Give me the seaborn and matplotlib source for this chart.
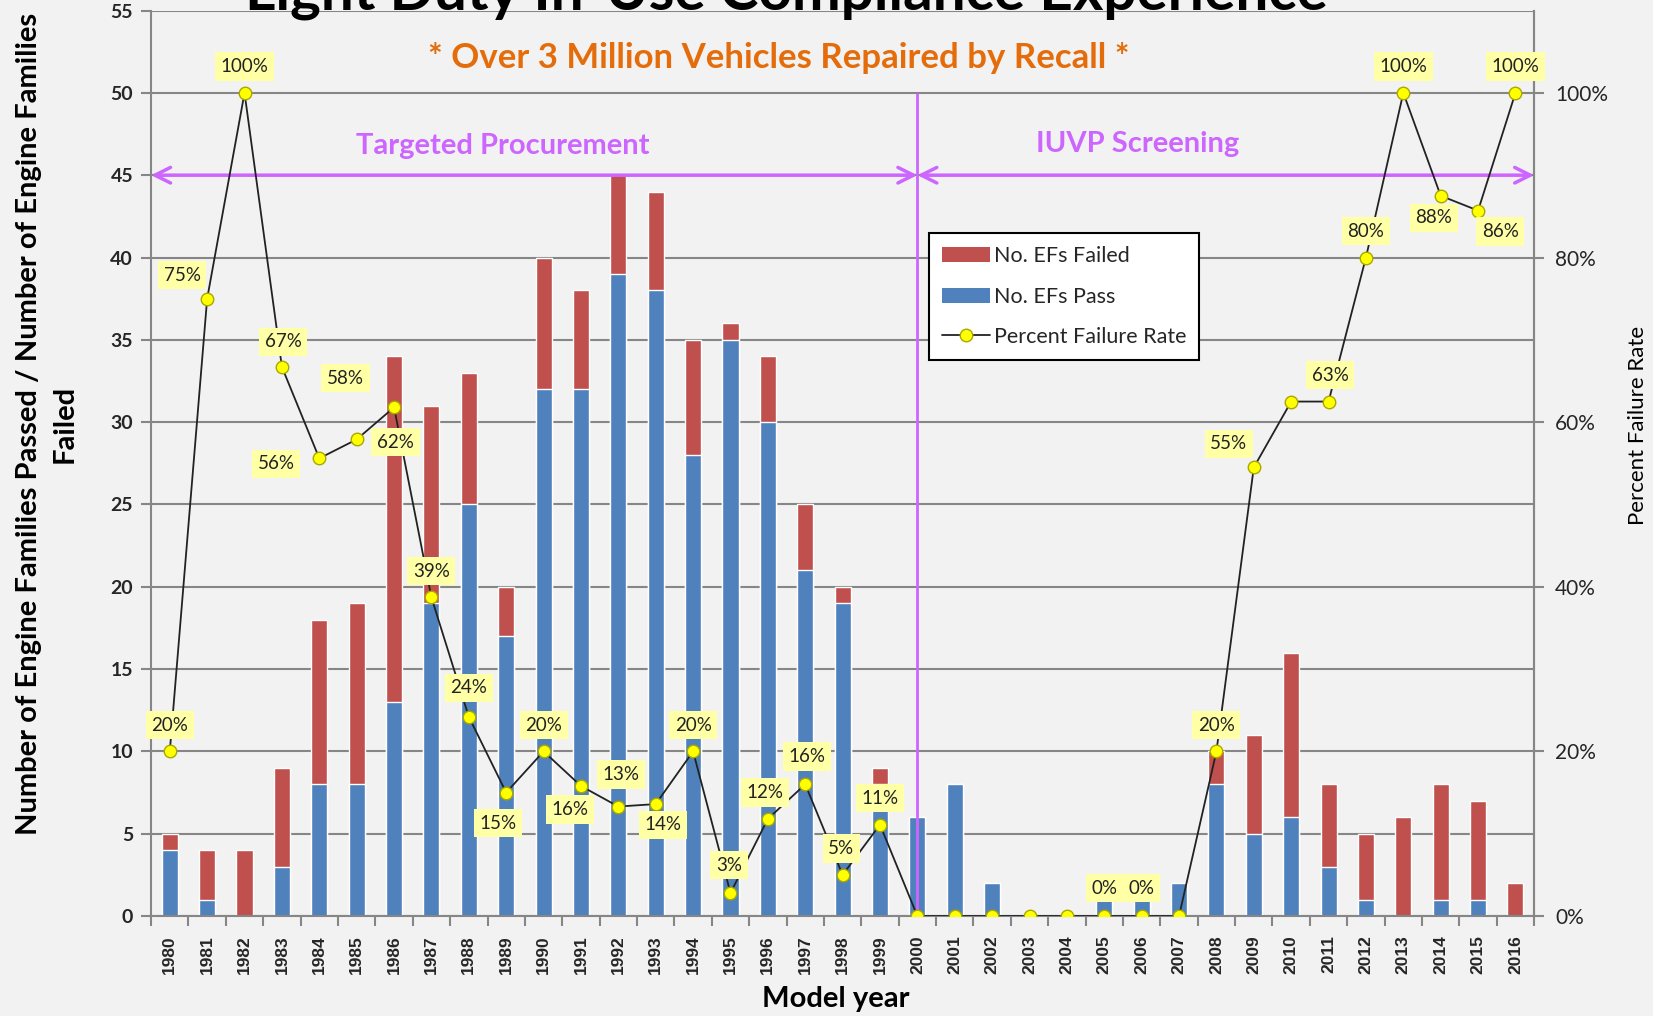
import numpy as np
import pandas as pd
import matplotlib
matplotlib.use("Agg")
import matplotlib.pyplot as plt
import seaborn as sns
from matplotlib.patches import Patch
from matplotlib.lines import Line2D
from matplotlib.ticker import FuncFormatter, FixedLocator

# ---------------- data ----------------
years = [str(y) for y in range(1980, 2017)]
passed = [4, 1, 0, 3, 8, 8, 13, 19, 25, 17, 32, 32, 39, 38, 28, 35, 30, 21, 19, 8,
          6, 8, 2, 0, 0, 1, 1, 2, 8, 5, 6, 3, 1, 0, 1, 1, 0]
failed = [1, 3, 4, 6, 10, 11, 21, 12, 8, 3, 8, 6, 6, 6, 7, 1, 4, 4, 1, 1,
          0, 0, 0, 0, 0, 0, 0, 0, 2, 6, 10, 5, 4, 6, 7, 6, 2]
fail_rate = [0.20, 0.75, 1.00, 0.667, 0.556, 0.579, 0.618, 0.387, 0.242, 0.15,
             0.20, 0.158, 0.133, 0.136, 0.20, 0.028, 0.118, 0.16, 0.05, 0.111,
             0, 0, 0, 0, 0, 0, 0, 0, 0.20, 0.545, 0.625, 0.625, 0.80, 1.00, 0.875, 0.857, 1.00]
rate_labels = ["20%", "75%", "100%", "67%", "56%", "58%", "62%", "39%", "24%", "15%",
               "20%", "16%", "13%", "14%", "20%", "3%", "12%", "16%", "5%", "11%",
               "", "", "", "", "", "0%", "0%", "", "20%", "55%", "", "63%", "80%", "100%", "88%", "86%", "100%"]
# label offsets (points) relative to each point
label_offsets = [(0, 19), (-18, 17), (0, 19), (1, 18), (-31, -4), (-8, 44), (1, -25), (0, 19), (0, 21), (-6, -22),
                 (0, 19), (-8, -17), (2, 23), (5, -15), (0, 19), (-1, 20), (-2, 19), (1, 20), (-1, 19), (0, 19),
                 (0, 19), (0, 19), (0, 19), (0, 19), (0, 19), (0, 20), (0, 20), (0, 19), (0, 19), (-18, 17),
                 (0, 19), (1, 19), (0, 19), (0, 19), (-5, -16), (16, -15), (0, 19)]

left_ticks = list(range(0, 56, 5))
right_ticks = [0, 0.2, 0.4, 0.6, 0.8, 1.0]

df = pd.DataFrame({"year": years, "passed": passed, "failed": failed})
df["total"] = df["passed"] + df["failed"]

BG = "#f2f2f2"
RED = "#c0504d"
BLUE = "#4f81bd"
PURPLE = "#cc66ff"
ORANGE = "#e46c0a"
GRID = "#868686"

sns.set_theme(style="white")
plt.rcParams["font.family"] = ["Lato", "DejaVu Sans"]

fig = plt.figure(figsize=(16.53, 10.16), dpi=100, facecolor=BG)
ax = fig.add_axes([0.0914, 0.0984, 0.8367, 0.8912])
ax.set_facecolor(BG)

sns.barplot(data=df, x="year", y="total", color=RED, saturation=1, width=0.43, ax=ax, zorder=2)
sns.barplot(data=df, x="year", y="passed", color=BLUE, saturation=1, width=0.43, ax=ax, zorder=2)

ax.set_xlim(-0.5, len(years) - 0.5)
ax.set_ylim(0, 55)
ax.yaxis.set_major_locator(FixedLocator(left_ticks))
ax.set_axisbelow(True)
ax.grid(axis="y", color=GRID, lw=1.5, zorder=0)
ax.grid(axis="x", visible=False)
ax.spines["top"].set_visible(False)
for s in ["left", "right", "bottom"]:
    ax.spines[s].set_color(GRID)
    ax.spines[s].set_linewidth(1.5)

# tick styling
ax.set_xticks(range(len(years)))
ax.set_xticklabels(years, rotation=90, fontsize=12.5, fontweight="bold",
                   family=["Liberation Sans", "DejaVu Sans"])
ax.tick_params(axis="x", which="major", length=0, pad=14)
ax.set_xticks(np.arange(-0.5, len(years), 1.0), minor=True)
ax.tick_params(axis="x", which="minor", length=7, color=GRID, width=1.5, direction="out", bottom=True)
ax.tick_params(axis="y", left=True, length=7, color=GRID, width=1.5, direction="out", labelsize=14, pad=6)
for lab in ax.get_yticklabels():
    lab.set_fontweight("bold")

ax.set_ylabel("Number of Engine Families Passed / Number of Engine Families\nFailed",
              fontsize=21, fontweight="bold", color="black", linespacing=1.45)
ax.yaxis.set_label_coords(-0.053, 0.543)
ax.set_xlabel("Model year", fontsize=21, fontweight="bold", color="black")
ax.xaxis.set_label_coords(0.495, -0.092)
ax.xaxis.label.set_va("center")

# period markers
ax.vlines(20, 0, 50, color=PURPLE, lw=2, zorder=3)
ax.annotate("", xy=(-0.5, 45), xytext=(20, 45),
            arrowprops=dict(arrowstyle="<->", color=PURPLE, lw=2.5, mutation_scale=28,
                            shrinkA=0, shrinkB=0), zorder=4)
ax.annotate("", xy=(20, 45), xytext=(len(years) - 0.5, 45),
            arrowprops=dict(arrowstyle="<->", color=PURPLE, lw=2.5, mutation_scale=28,
                            shrinkA=0, shrinkB=0), zorder=4)
ax.text(8.9, 46.8, "Targeted Procurement", color=PURPLE, fontsize=21, fontweight="bold",
        ha="center", va="center")
ax.text(25.9, 46.9, "IUVP Screening", color=PURPLE, fontsize=21, fontweight="bold",
        ha="center", va="center")
ax.text(16.3, 52.1, "* Over 3 Million Vehicles Repaired by Recall *", color=ORANGE,
        fontsize=25, fontweight="bold", ha="center", va="center")

# secondary axis: failure rate
ax2 = ax.twinx()
ax2.patch.set_visible(False)
sns.lineplot(x=np.arange(len(years)), y=fail_rate, ax=ax2, color="#222222", lw=1.3,
             marker="o", markersize=9, markerfacecolor="#ffff00", markeredgecolor="#a8a800",
             markeredgewidth=1, zorder=5)
ax2.set_ylim(0, 1.1)
ax2.yaxis.set_major_locator(FixedLocator(right_ticks))
ax2.yaxis.set_major_formatter(FuncFormatter(lambda v, p: f"{v:.0%}"))
ax2.tick_params(axis="y", right=True, length=7, color=GRID, width=1.5, direction="out", labelsize=15, pad=8)
ax2.grid(False)
for s in ["top", "left", "bottom"]:
    ax2.spines[s].set_visible(False)
ax2.spines["right"].set_color(GRID)
ax2.spines["right"].set_linewidth(1.5)
ax2.set_ylabel("Percent Failure Rate", fontsize=16, color="black")
ax2.yaxis.set_label_coords(1.068, 0.542)

for i, (txt, off) in enumerate(zip(rate_labels, label_offsets)):
    if txt:
        ax2.annotate(txt, (i, fail_rate[i]), xytext=off, textcoords="offset points",
                     ha="center", va="center", fontsize=13.5, color="#222222",
                     bbox=dict(boxstyle="square,pad=0.3", fc="#ffffa6", ec="none"), zorder=6)

handles = [Patch(facecolor=RED, edgecolor="none"),
           Patch(facecolor=BLUE, edgecolor="none"),
           Line2D([0], [0], color="#222222", lw=1.3, marker="o", markersize=9,
                  markerfacecolor="#ffff00", markeredgecolor="#a8a800")]
leg = ax2.legend(handles, ["No. EFs Failed", "No. EFs Pass", "Percent Failure Rate"],
                 loc="upper left", bbox_to_anchor=(0.555, 0.766), frameon=True, fancybox=False,
                 edgecolor="black", facecolor="white", framealpha=1, fontsize=15.5,
                 labelspacing=0.95, handlelength=2.2, handletextpad=0.2, borderpad=0.6)
leg.get_frame().set_linewidth(1.5)
leg.set_zorder(10)

fig.text(0.476, 0.991, "Light Duty In-Use Compliance Experience", fontsize=42, fontweight="bold",
         ha="center", va="baseline", color="black")

fig.savefig("out.png", dpi=100, facecolor=BG)
